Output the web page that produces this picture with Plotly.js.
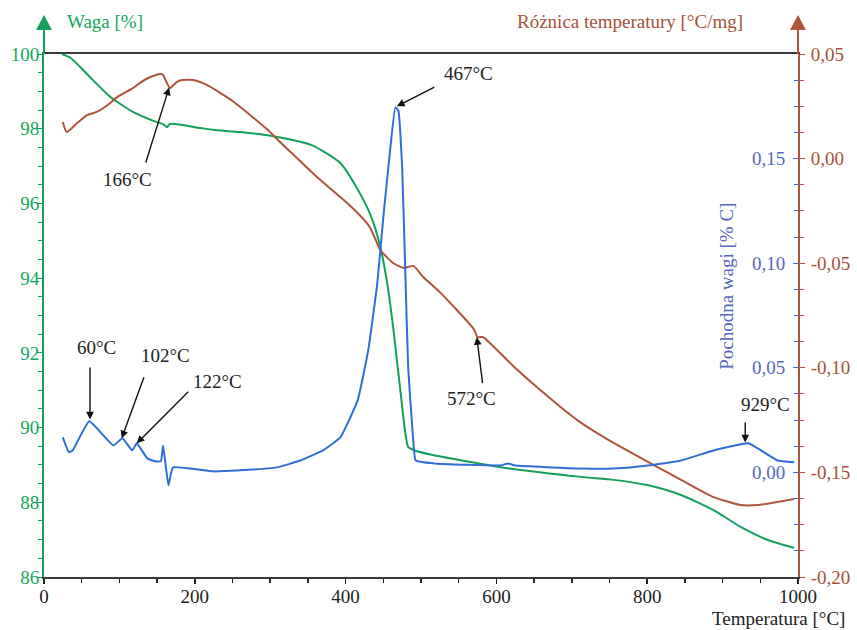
<!DOCTYPE html>
<html>
<head>
<meta charset="utf-8">
<script src="https://cdn.plot.ly/plotly-3.0.1.min.js"></script>
<style>html,body{margin:0;padding:0;background:#fff;}#chart{width:857px;height:630px;}</style>
</head>
<body>
<div id="chart"></div>
<script>
// Waga [%] (green, left axis)
var tempW = [24,35,48,65,88,118,145,159,163,167,207,224,260,304,355,393,415,434,447,456,464,473,483,490,514,606,712,756,800,844,888,924,960,995];
var waga  = [100.00,99.90,99.65,99.30,98.85,98.45,98.21,98.11,98.04,98.13,98.02,97.97,97.91,97.80,97.56,97.08,96.41,95.64,94.75,93.76,92.53,90.93,89.48,89.40,89.27,88.94,88.68,88.60,88.46,88.20,87.79,87.34,86.99,86.78];

// Różnica temperatury [°C/mg] (brown, right axis)
var tempD = [25,30,44,57,70,88,97,118,127,141,154,158,163,167,176,183,198,216,251,296,313,340,362,402,416,430,436,446,463,477,490,503,526,570,575,582,590,628,685,712,738,756,801,845,888,924,947,995];
var roznica = [0.0175,0.0127,0.0170,0.0208,0.0223,0.0266,0.0294,0.0337,0.0361,0.0390,0.0404,0.0400,0.0361,0.0337,0.0366,0.0376,0.0376,0.0352,0.0273,0.0140,0.0079,-0.0013,-0.0088,-0.0212,-0.0260,-0.0317,-0.0356,-0.0437,-0.0499,-0.0523,-0.0513,-0.0566,-0.0642,-0.0815,-0.0853,-0.0853,-0.0877,-0.1011,-0.1187,-0.1262,-0.1322,-0.1360,-0.1450,-0.1536,-0.1618,-0.1656,-0.1656,-0.1627];

// Pochodna wagi [% C] (blue, inner right axis)
var tempP = [25,33,38,60,92,104,117,123,137,147,155,158,165,171,224,260,309,340,370,393,416,430,442,450,459,466,470,475,479,483,489,493,517,606,615,625,712,756,801,845,888,934,955,973,995];
var pochodna = [0.0167,0.0096,0.0105,0.0244,0.0129,0.0163,0.0105,0.0139,0.0067,0.0053,0.0053,0.0129,-0.0062,0.0024,0.0005,0.0010,0.0024,0.0057,0.0105,0.0167,0.0344,0.0583,0.0903,0.1219,0.1539,0.1745,0.1730,0.1458,0.0980,0.0502,0.0186,0.0057,0.0043,0.0033,0.0043,0.0033,0.0019,0.0019,0.0033,0.0057,0.0105,0.0139,0.0096,0.0057,0.0048];

// Tick labels
var xTickVals = [0,200,400,600,800,1000];
var xTickText = ['0','200','400','600','800','1000'];
var wTickVals = [86,88,90,92,94,96,98,100];
var wTickText = ['86','88','90','92','94','96','98','100'];
var dTickVals = [-0.20,-0.15,-0.10,-0.05,0.00,0.05];
var dTickText = ['-0,20','-0,15','-0,10','-0,05','0,00','0,05'];
var pTickVals = [0.00,0.05,0.10,0.15];
var pTickText = ['0,00','0,05','0,10','0,15'];

// Peak labels: text, temperature, value, axis
var peakText = ['467°C','166°C','60°C','102°C','122°C','572°C','929°C'];
var peakTemp = [468,166,61,103,123,574,930];
var peakVal  = [0.175,0.034,0.0253,0.0163,0.0139,-0.0853,0.0143];
var peakAxis = ['y3','y2','y3','y3','y3','y2','y3'];

var GREEN='#14a05a', GREENT='#12a65a', BROWN='#b0553c', BROWNT='#a8503c', BLUE='#2f6ed8', BLUET='#5567c0';
var FONT="'Liberation Serif', 'Times New Roman', serif";

var traces = [
  {x: tempW, y: waga, type:'scatter', mode:'lines', line:{color:GREEN, width:2, shape:'spline', smoothing:0.6}, yaxis:'y'},
  {x: tempD, y: roznica, type:'scatter', mode:'lines', line:{color:BROWN, width:2, shape:'spline', smoothing:0.5}, yaxis:'y2'},
  {x: tempP, y: pochodna, type:'scatter', mode:'lines', line:{color:BLUE, width:2, shape:'spline', smoothing:0.35}, yaxis:'y3'}
];

// arrow tail offsets and label offsets (pixels)
var tailOff = [[39,-20],[-24,77],[0,-54],[23,-63],[53,-53],[6,48],[0,-22]];
var textOff = [[72,33],[-42,-92],[7,72],[44,83],[81,62],[-5,-61],[20,38]];

var annotations = [];
for (var i=0;i<peakText.length;i++){
  annotations.push({x:peakTemp[i], y:peakVal[i], xref:'x', yref:peakAxis[i], text:' ', font:{size:1},
    showarrow:true, ax:tailOff[i][0], ay:tailOff[i][1], arrowhead:2, arrowsize:1.1, arrowwidth:1.4, arrowcolor:'#111', standoff:0, startstandoff:0});
  annotations.push({x:peakTemp[i], y:peakVal[i], xref:'x', yref:peakAxis[i], text:peakText[i], showarrow:false,
    xshift:textOff[i][0], yshift:textOff[i][1], font:{family:FONT, size:19, color:'#222'}});
}
for (var j=0;j<pTickVals.length;j++){
  annotations.push({xref:'paper', yref:'y3', x:1, y:pTickVals[j], xanchor:'right', yanchor:'middle', xshift:-11,
    text:pTickText[j], showarrow:false, font:{family:FONT, size:19, color:BLUET}});
}
annotations.push({xref:'paper', yref:'paper', x:0.028, y:1.063, xanchor:'left', yanchor:'middle', text:'Waga [%]', showarrow:false, font:{family:FONT,size:19,color:GREENT}});
annotations.push({xref:'paper', yref:'paper', x:0.930, y:1.063, xanchor:'right', yanchor:'middle', text:'Różnica temperatury [°C/mg]', showarrow:false, font:{family:FONT,size:19,color:BROWNT}});
annotations.push({xref:'paper', yref:'paper', x:0.906, y:0.555, xanchor:'center', yanchor:'middle', textangle:-90, text:'Pochodna wagi [% C]', showarrow:false, font:{family:FONT,size:19,color:BLUET}});
annotations.push({xref:'paper', yref:'paper', x:1.065, y:-0.079, xanchor:'right', yanchor:'middle', text:'Temperatura [°C]', showarrow:false, font:{family:FONT,size:19,color:'#222'}});

var shapes = [
  {type:'line', xref:'paper', yref:'paper', x0:0, x1:0, y0:1, y1:1.046, line:{color:GREEN, width:2}},
  {type:'path', xref:'paper', yref:'paper', path:'M -0.0106 1.0459 L 0.0106 1.0459 L 0 1.0746 Z', fillcolor:GREEN, line:{width:0}},
  {type:'line', xref:'paper', yref:'paper', x0:1, x1:1, y0:1, y1:1.046, line:{color:BROWN, width:2}},
  {type:'path', xref:'paper', yref:'paper', path:'M 0.9894 1.0459 L 1.0106 1.0459 L 1 1.0746 Z', fillcolor:BROWN, line:{width:0}}
];

var layout = {
  width:857, height:630,
  margin:{l:44, r:59, t:54, b:53},
  paper_bgcolor:'#fff', plot_bgcolor:'#fff',
  showlegend:false,
  font:{family:FONT, size:19},
  xaxis:{range:[0,1000], tickvals:xTickVals, ticktext:xTickText, ticks:'outside', ticklen:5, tickwidth:1.5, tickcolor:'#222',
    minor:{dtick:50, ticks:'outside', ticklen:4, tickcolor:'#222', tickwidth:1.5}, ticklabelstandoff:-4,
    showline:true, linecolor:'#3a3a3a', linewidth:2, mirror:true, showgrid:false, zeroline:false,
    tickfont:{family:FONT, size:19, color:'#222'}},
  yaxis:{range:[86,100], tickvals:wTickVals, ticktext:wTickText, ticks:'outside', ticklen:5, tickcolor:GREEN, tickwidth:1,
    minor:{dtick:0.5, ticks:'outside', ticklen:4, tickcolor:GREEN}, ticklabelstandoff:-6,
    showline:true, linecolor:GREEN, linewidth:2, showgrid:false, zeroline:false,
    tickfont:{family:FONT, size:19, color:GREENT}},
  yaxis2:{range:[-0.20,0.05], overlaying:'y', side:'right', anchor:'x', tickvals:dTickVals, ticktext:dTickText,
    ticks:'outside', ticklen:5, tickcolor:BROWN, minor:{dtick:0.0125, ticks:'outside', ticklen:4, tickcolor:BROWN},
    showline:true, linecolor:BROWN, linewidth:2, showgrid:false, zeroline:false, ticklabelstandoff:2,
    tickfont:{family:FONT, size:19, color:BROWNT}},
  yaxis3:{range:[-0.05,0.20], overlaying:'y', side:'right', anchor:'x', tickvals:pTickVals, showticklabels:false,
    ticks:'inside', ticklen:5, tickcolor:BLUE, minor:{dtick:0.0125, ticks:'inside', ticklen:4, tickcolor:BLUE},
    showline:false, showgrid:false, zeroline:false},
  annotations:annotations,
  shapes:shapes
};

Plotly.newPlot('chart', traces, layout, {staticPlot:true, displayModeBar:false});
</script>
</body>
</html>
